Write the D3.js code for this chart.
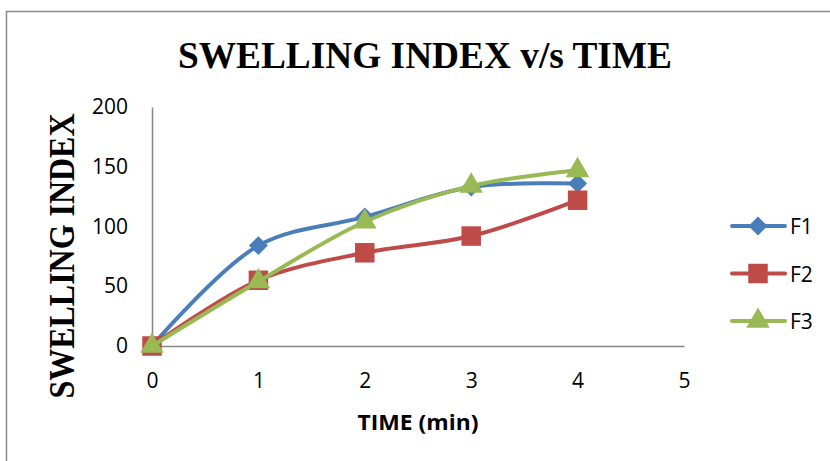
<!DOCTYPE html>
<html>
<head>
<meta charset="utf-8">
<script src="https://cdn.jsdelivr.net/npm/d3@7"></script>
<style>
  body { margin: 0; background: #fff; }
</style>
</head>
<body>
<div class="chart"></div>
<script>
const times = [0, 1, 2, 3, 4];
const xTicks = [0, 1, 2, 3, 4, 5];
const yTicks = [0, 50, 100, 150, 200];
const f1 = [0, 84, 108, 133, 136];
const f2 = [0, 55, 78, 92, 122];
const f3 = [0, 54, 104, 134, 147];
const seriesNames = ['F1', 'F2', 'F3'];
const colors = ['#4a7ebb', '#be4b48', '#98b954'];
// excel style markers: diamond is a square turned 45 degrees
const markers = [
    { type: d3.symbolSquare, size: 180, rotate: 45 },
    { type: d3.symbolSquare, size: 380, rotate: 0 },
    { type: d3.symbolTriangle, size: 240, rotate: 0 }
];

const width = 830;
const height = 461;

const svg = d3.select('.chart')
    .append('svg')
    .attr('width', width)
    .attr('height', height);

// outer chart border (only top/left show in the crop)
svg.append('rect')
    .attr('x', 6.5)
    .attr('y', 11.5)
    .attr('width', 1000)
    .attr('height', 1000)
    .attr('fill', 'none')
    .attr('stroke', '#888')
    .attr('stroke-width', 1.5);

const x = d3.scaleLinear().domain([0, 5]).range([152, 684]);
const y = d3.scaleLinear().domain([0, 200]).range([346, 107]);

svg.append('text')
    .attr('x', 425)
    .attr('y', 68)
    .attr('text-anchor', 'middle')
    .attr('textLength', 494)
    .attr('lengthAdjust', 'spacingAndGlyphs')
    .style('font-family', 'Liberation Serif')
    .style('font-weight', 'bold')
    .style('font-size', '38px')
    .text('SWELLING INDEX v/s TIME');

const xAxis = svg.append('g')
    .attr('transform', `translate(0,${y(0)})`)
    .call(d3.axisBottom(x).tickValues(xTicks).tickFormat(d3.format('d'))
        .tickSize(0).tickPadding(27));

const yAxis = svg.append('g')
    .attr('transform', `translate(${x(0)},0)`)
    .call(d3.axisLeft(y).tickValues(yTicks).tickFormat(d3.format('d'))
        .tickSize(0).tickPadding(24));

[xAxis, yAxis].forEach(g => {
    g.select('.domain').attr('stroke', '#868686').attr('stroke-width', 1.5);
    g.selectAll('text')
        .attr('fill', '#000')
        .style('font-family', 'Open Sans')
        .style('font-size', '21px');
});

svg.append('text')
    .attr('x', 418)
    .attr('y', 430)
    .attr('text-anchor', 'middle')
    .style('font-family', 'Open Sans')
    .style('font-weight', 'bold')
    .style('font-size', '21px')
    .attr('textLength', 121)
    .attr('lengthAdjust', 'spacingAndGlyphs')
    .text('TIME (min)');

svg.append('text')
    .attr('transform', 'translate(74,256) rotate(-90)')
    .attr('text-anchor', 'middle')
    .attr('textLength', 285)
    .attr('lengthAdjust', 'spacingAndGlyphs')
    .style('font-family', 'Liberation Serif')
    .style('font-weight', 'bold')
    .style('font-size', '35px')
    .text('SWELLING INDEX');

const markerPath = m => d3.symbol().type(m.type).size(m.size)();

const series = [f1, f2, f3];
const line = d3.line()
    .x((d, i) => x(times[i]))
    .y(d => y(d))
    .curve(d3.curveCatmullRom.alpha(0.5));

series.forEach((values, s) => {
    const g = svg.append('g');
    g.append('path')
        .datum(values)
        .attr('d', line)
        .attr('fill', 'none')
        .attr('stroke', colors[s])
        .attr('stroke-width', 4)
        .attr('stroke-linecap', 'round');
    g.selectAll('path.pt')
        .data(values)
        .enter()
        .append('path')
        .attr('class', 'pt')
        .attr('transform', (d, i) =>
            `translate(${x(times[i])},${y(d)}) rotate(${markers[s].rotate})`)
        .attr('d', markerPath(markers[s]))
        .attr('fill', colors[s]);
});

const legend = svg.append('g')
    .selectAll('g')
    .data(seriesNames)
    .enter()
    .append('g')
    .attr('transform', (d, i) => `translate(0,${226 + i * 47.5})`);

legend.append('line')
    .attr('x1', 732)
    .attr('x2', 785)
    .attr('stroke', (d, i) => colors[i])
    .attr('stroke-width', 4)
    .attr('stroke-linecap', 'round');

legend.append('path')
    .attr('transform', (d, i) => `translate(758,0) rotate(${markers[i].rotate})`)
    .attr('d', (d, i) => markerPath(markers[i]))
    .attr('fill', (d, i) => colors[i]);

legend.append('text')
    .attr('x', 790)
    .attr('y', 8)
    .style('font-family', 'Open Sans')
    .style('font-size', '21px')
    .text(d => d);
</script>
</body>
</html>
